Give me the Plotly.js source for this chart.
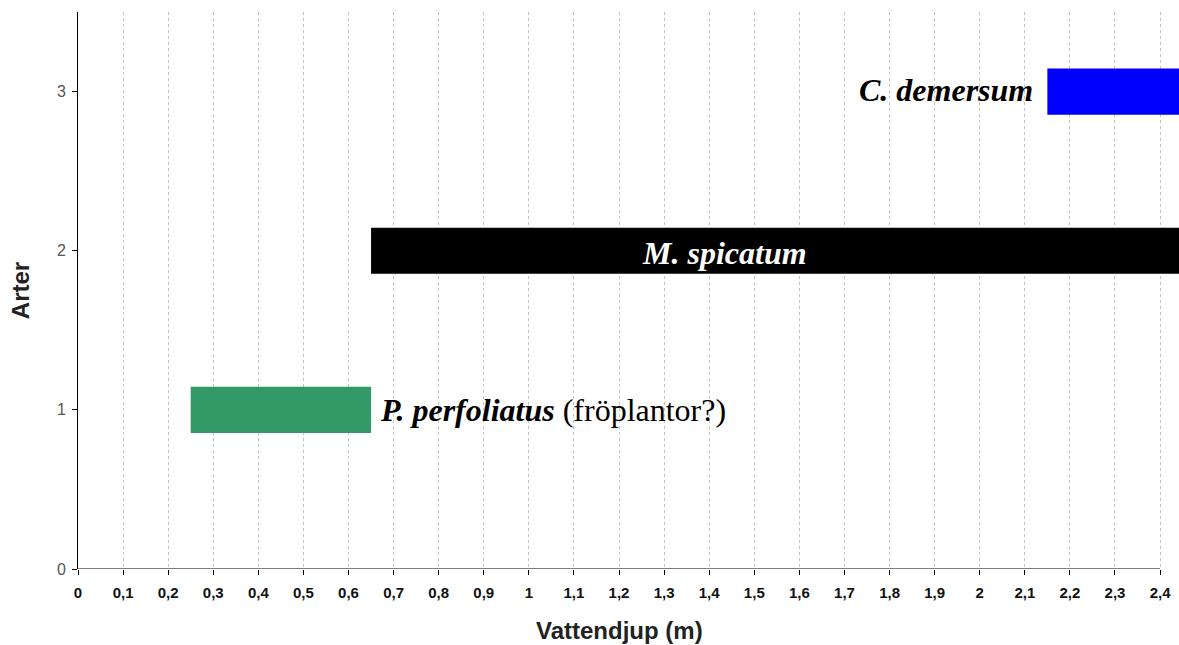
<!DOCTYPE html>
<html>
<head>
<meta charset="utf-8">
<script src="https://cdn.plot.ly/plotly-3.0.1.min.js"></script>
<style>html,body{margin:0;padding:0;background:#fff;}#chart{width:1179px;height:645px;}</style>
</head>
<body>
<div id="chart"></div>
<script>
// Data
const species = ["P. perfoliatus", "M. spicatum", "C. demersum"];
const speciesY = [1, 2, 3];
const depthStart = [0.25, 0.65, 2.15];
const depthEnd = [0.65, 2.5, 2.5];
const barColors = ["#339966", "#000000", "#0000ff"];
const xTickVals = [0,0.1,0.2,0.3,0.4,0.5,0.6,0.7,0.8,0.9,1,1.1,1.2,1.3,1.4,1.5,1.6,1.7,1.8,1.9,2,2.1,2.2,2.3,2.4];
const xTickText = ["0","0,1","0,2","0,3","0,4","0,5","0,6","0,7","0,8","0,9","1","1,1","1,2","1,3","1,4","1,5","1,6","1,7","1,8","1,9","2","2,1","2,2","2,3","2,4"];
const yTickVals = [0, 1, 2, 3];
const yTickText = ["0", "1", "2", "3"];
const xTitle = "Vattendjup (m)";
const yTitle = "Arter";

const trace = {
  type: "bar",
  orientation: "h",
  y: speciesY,
  base: depthStart,
  x: depthStart.map((s, i) => depthEnd[i] - s),
  width: 0.29,
  marker: { color: barColors, line: { width: 0 } },
  hoverinfo: "skip",
  showlegend: false
};

const serif = "Liberation Serif, Times New Roman, serif";
const sans = "Liberation Sans, Arial, sans-serif";
const xMid = (xTickVals[0] + xTickVals[xTickVals.length - 1]) / 2;
const layout = {
  width: 1179, height: 645,
  margin: { l: 78, r: 0, t: 12, b: 76 },
  paper_bgcolor: "#ffffff", plot_bgcolor: "#ffffff",
  showlegend: false,
  xaxis: {
    range: [0, 2.442],
    tickvals: xTickVals, ticktext: xTickText,
    showgrid: true, gridcolor: "#c4c4c4", griddash: "3px,3px", gridwidth: 1,
    zeroline: false, showline: false,
    ticks: "outside", ticklen: 5, tickcolor: "#000", tickwidth: 1,
    ticklabelstandoff: 5,
    tickfont: { family: sans, size: 15, color: "#111", weight: "bold" },
    fixedrange: true
  },
  yaxis: {
    range: [0, 3.5],
    tickvals: yTickVals, ticktext: yTickText,
    showgrid: false, zeroline: false,
    showline: true, linecolor: "#000", linewidth: 1,
    ticks: "outside", ticklen: 5, tickcolor: "#000",
    ticklabelstandoff: 3,
    tickfont: { family: sans, size: 16, color: "#555" },
    title: { text: "<b>" + yTitle + "</b>", font: { family: sans, size: 24, color: "#222" }, standoff: 20 },
    fixedrange: true
  },
  shapes: [{
    type: "line", xref: "x", yref: "y",
    x0: xTickVals[0], x1: xTickVals[xTickVals.length - 1], y0: 0, y1: 0,
    line: { color: "#000", width: 1 }
  }],
  annotations: [
    { x: xMid, y: 0, xref: "x", yref: "paper", xanchor: "center", yanchor: "middle", yshift: -61, showarrow: false,
      text: "<b>" + xTitle + "</b>", font: { family: sans, size: 24, color: "#222" } },
    { x: depthEnd[0], y: speciesY[0], xref: "x", yref: "y", xanchor: "left", yanchor: "middle", xshift: 7, showarrow: false,
      text: "<b><i>" + species[0] + "</i></b> (fröplantor?)", font: { family: serif, size: 32, color: "#000" } },
    { x: 1.435, y: speciesY[1], xref: "x", yref: "y", xanchor: "center", yanchor: "middle", yshift: -2, showarrow: false,
      text: "<b><i>" + species[1] + "</i></b>", font: { family: serif, size: 32, color: "#fff" } },
    { x: depthStart[2], y: speciesY[2], xref: "x", yref: "y", xanchor: "right", yanchor: "middle", xshift: -12, yshift: 2, showarrow: false,
      text: "<b><i>" + species[2] + "</i></b>", font: { family: serif, size: 32, color: "#000" } }
  ]
};

Plotly.newPlot("chart", [trace], layout, { displayModeBar: false, staticPlot: true });
</script>
</body>
</html>
